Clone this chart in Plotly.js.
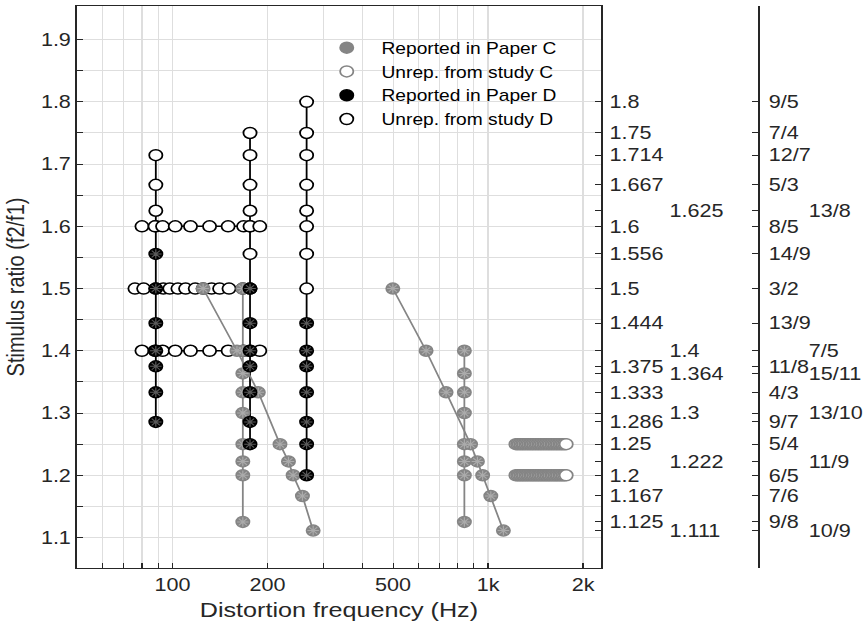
<!DOCTYPE html>
<html>
<head>
<meta charset="utf-8">
<script src="https://cdn.plot.ly/plotly-3.0.1.min.js"></script>
<style>
html,body{margin:0;padding:0;overflow:hidden;background:#fff;}
#wrap{width:723px;height:639px;transform:scaleX(1.1992);transform-origin:0 0;}
</style>
</head>
<body>
<div id="wrap"><div id="plot"></div></div>
<script>
// ---------- Data ----------
// Study D: vertical columns (constant distortion frequency)
const dColFreqs = [88.5, 176, 266];
const dColOpen = [
  [1.7143, 1.6667, 1.625, 1.6],
  [1.75, 1.7143, 1.6667, 1.625, 1.6, 1.5556],
  [1.8, 1.75, 1.7143, 1.6667, 1.625, 1.6, 1.5556, 1.5]
];
const dColRep = [
  [1.5556, 1.5, 1.4444, 1.4, 1.375, 1.3333, 1.2857],
  [1.5, 1.4444, 1.4, 1.375, 1.3333, 1.2857, 1.25],
  [1.4444, 1.4, 1.375, 1.3333, 1.2857, 1.25, 1.2]
];
// Study D: horizontal rows (constant ratio), unreported
const dRowRatios = [1.6, 1.5, 1.4];
const dRowFreqs = [
  [80, 88, 93, 102, 114, 131, 150, 168, 176, 189],
  [76, 81, 88.5, 93.5, 98, 104, 110, 118, 125, 133, 141, 151, 167, 176],
  [80, 88, 93, 102, 114, 131, 150, 168, 176, 189]
];
// Study C: diagonals (reported)
const cDiagRatios = [1.5, 1.4, 1.3333, 1.25, 1.2222, 1.2, 1.1667, 1.1111];
const cDiagLowFreqs = [125, 160, 187, 219, 233, 241, 258, 279];
const cDiagHighFreqs = [499, 636, 736, 880, 925, 961, 1020, 1118];
// Study C: vertical columns (reported)
const cColLowFreq = 167;
const cColLowRatios = [1.5, 1.4, 1.3636, 1.3333, 1.3, 1.25, 1.2222, 1.2, 1.125];
const cColHighFreq = 841;
const cColHighRatios = [1.4, 1.3636, 1.3333, 1.3, 1.25, 1.2222, 1.2, 1.125];
// Study C: dense horizontal rows (unreported)
const cRowRatios = [1.25, 1.2];
const cRowFreqs = [1225, 1240, 1255, 1270, 1285, 1300, 1316, 1332, 1348, 1364, 1380, 1396,
  1413, 1430, 1447, 1464, 1481, 1499, 1517, 1535, 1553, 1571, 1590, 1609, 1628, 1647,
  1666, 1686, 1706, 1726, 1746, 1768];

// Axis ticks
const xTickVals = [60, 70, 80, 90, 100, 200, 300, 400, 500, 600, 700, 800, 900, 1000, 2000];
const xTickText = ['', '', '', '', '100', '200', '', '', '500', '', '', '', '', '1k', '2k'];
const yTickVals = [1.1, 1.15, 1.2, 1.25, 1.3, 1.35, 1.4, 1.45, 1.5, 1.55, 1.6, 1.65, 1.7, 1.75, 1.8, 1.85, 1.9];
const yTickText = ['1.1', '', '1.2', '', '1.3', '', '1.4', '', '1.5', '', '1.6', '', '1.7', '', '1.8', '', '1.9'];
const ratioVals = [1.8, 1.75, 1.7143, 1.6667, 1.6, 1.5556, 1.5, 1.4444, 1.375, 1.3333, 1.2857, 1.25, 1.2, 1.1667, 1.125];
const ratioDec = ['1.8', '1.75', '1.714', '1.667', '1.6', '1.556', '1.5', '1.444', '1.375', '1.333', '1.286', '1.25', '1.2', '1.167', '1.125'];
const ratioFrac = ['9/5', '7/4', '12/7', '5/3', '8/5', '14/9', '3/2', '13/9', '11/8', '4/3', '9/7', '5/4', '6/5', '7/6', '9/8'];
const staggerVals = [1.625, 1.4, 1.3636, 1.3, 1.2222, 1.1111];
const staggerDec = ['1.625', '1.4', '1.364', '1.3', '1.222', '1.111'];
const staggerFrac = ['13/8', '7/5', '15/11', '13/10', '11/9', '10/9'];

// ---------- Styles ----------
const GRAY = '#858585';
const DARK = '#000000';
const AX = '#262626';
const MS = 11;

const traces = [];
function lineTrace(x, y, color) {
  traces.push({x: x, y: y, mode: 'lines', type: 'scatter', showlegend: false, hoverinfo: 'skip',
    line: {color: color, width: 1.5}});
}
// lines: study D
dColFreqs.forEach((f, i) => {
  const ys = dColOpen[i].concat(dColRep[i]);
  lineTrace(ys.map(() => f), ys, DARK);
});
dRowRatios.forEach((r, i) => lineTrace(dRowFreqs[i], dRowFreqs[i].map(() => r), DARK));
// lines: study C
lineTrace(cDiagLowFreqs, cDiagRatios, GRAY);
lineTrace(cDiagHighFreqs, cDiagRatios, GRAY);
lineTrace(cColLowRatios.map(() => cColLowFreq), cColLowRatios, GRAY);
lineTrace(cColHighRatios.map(() => cColHighFreq), cColHighRatios, GRAY);
cRowRatios.forEach(r => lineTrace(cRowFreqs, cRowFreqs.map(() => r), GRAY));

// marker collections
let dOpenX = [], dOpenY = [], dRepX = [], dRepY = [];
dColFreqs.forEach((f, i) => {
  dColOpen[i].forEach(r => { dOpenX.push(f); dOpenY.push(r); });
  dColRep[i].forEach(r => { dRepX.push(f); dRepY.push(r); });
});
dRowRatios.forEach((r, i) => dRowFreqs[i].forEach(f => { dOpenX.push(f); dOpenY.push(r); }));
let cRepX = [], cRepY = [], cOpenX = [], cOpenY = [];
cDiagRatios.forEach((r, i) => { cRepX.push(cDiagLowFreqs[i]); cRepY.push(r); });
cColLowRatios.forEach(r => { cRepX.push(cColLowFreq); cRepY.push(r); });
cDiagRatios.forEach((r, i) => { cRepX.push(cDiagHighFreqs[i]); cRepY.push(r); });
cColHighRatios.forEach(r => { cRepX.push(cColHighFreq); cRepY.push(r); });
cRowRatios.forEach(r => cRowFreqs.forEach(f => { cOpenX.push(f); cOpenY.push(r); }));

traces.push({x: dOpenX, y: dOpenY, mode: 'markers', type: 'scatter', name: 'Unrep. from study D', legendrank: 4,
  marker: {symbol: 'circle', size: MS, color: '#ffffff', line: {color: DARK, width: 1.5}}});
traces.push({x: cOpenX, y: cOpenY, mode: 'markers', type: 'scatter', name: 'Unrep. from study C', legendrank: 2,
  marker: {symbol: 'circle', size: MS, color: '#ffffff', line: {color: GRAY, width: 1.5}}});
traces.push({x: cRepX, y: cRepY, mode: 'markers', type: 'scatter', name: 'Reported in Paper C', legendrank: 1,
  marker: {symbol: 'circle', size: MS, color: GRAY, line: {color: GRAY, width: 1.5}}});
traces.push({x: cRepX, y: cRepY, mode: 'markers', type: 'scatter', showlegend: false, hoverinfo: 'skip',
  marker: {symbol: 'asterisk-open', size: 8, color: '#ababab', line: {color: '#ababab', width: 1}}});
traces.push({x: dRepX, y: dRepY, mode: 'markers', type: 'scatter', name: 'Reported in Paper D', legendrank: 3,
  marker: {symbol: 'circle', size: MS, color: DARK, line: {color: DARK, width: 1.5}}});
traces.push({x: dRepX, y: dRepY, mode: 'markers', type: 'scatter', showlegend: false, hoverinfo: 'skip',
  marker: {symbol: 'asterisk-open', size: 8, color: '#5a5a5a', line: {color: '#5a5a5a', width: 1}}});
// empty carriers for the ratio axes
['y2', 'y3', 'y4', 'y5'].forEach(ya => traces.push({x: [], y: [], yaxis: ya, type: 'scatter', mode: 'markers', showlegend: false, hoverinfo: 'skip'}));

const FONT = 'Liberation Sans, Arial, Helvetica, sans-serif';
const yRange = [1.051, 1.954];
const rightAxisBase = {overlaying: 'y', side: 'right', range: yRange, showgrid: false, zeroline: false,
  tickfont: {size: 18, color: AX, family: FONT}, fixedrange: true};

const layout = {
  width: 723, height: 639,
  margin: {l: 64, r: 3, t: 6, b: 71},
  paper_bgcolor: '#ffffff', plot_bgcolor: '#ffffff',
  font: {family: FONT, color: AX},
  showlegend: true,
  legend: {x: 0.299, y: 0.956, xanchor: 'left', yanchor: 'top', bgcolor: 'rgba(0,0,0,0)',
    font: {size: 16, color: '#000', family: FONT}, itemwidth: 48, traceorder: 'normal'},
  xaxis: {type: 'log', range: [1.6964, 3.358], domain: [0, 0.6665],
    tickvals: xTickVals, ticktext: xTickText, ticks: 'inside', ticklen: 5, tickcolor: AX,
    showline: true, mirror: true, linecolor: AX, linewidth: 1.3,
    showgrid: true, gridcolor: '#dedede', gridwidth: 1, zeroline: false,
    tickfont: {size: 18, color: AX, family: FONT},
    title: {text: 'Distortion frequency (Hz)', font: {size: 21, color: AX, family: FONT}, standoff: 8}},
  yaxis: {range: yRange, tickvals: yTickVals, ticktext: yTickText, ticks: 'inside', ticklen: 5, tickcolor: AX,
    showline: true, mirror: true, linecolor: AX, linewidth: 1.3,
    showgrid: true, gridcolor: '#dedede', gridwidth: 1, zeroline: false,
    tickfont: {size: 18, color: AX, family: FONT},
    title: {text: 'Stimulus ratio (f2/f1)', font: {size: 20, color: AX, family: FONT}, standoff: 8}},
  yaxis2: Object.assign({}, rightAxisBase, {anchor: 'x', tickvals: ratioVals.concat(staggerVals),
    ticktext: ratioDec.concat(staggerVals.map(() => '')), ticks: 'inside', ticklen: 5, tickcolor: AX,
    showline: false, ticklabelstandoff: 6}),
  yaxis3: Object.assign({}, rightAxisBase, {anchor: 'free', position: 0.752, tickvals: staggerVals,
    ticktext: staggerDec, ticks: '', showline: false}),
  yaxis4: Object.assign({}, rightAxisBase, {anchor: 'free', position: 0.866, tickvals: ratioVals.concat(staggerVals),
    ticktext: ratioFrac.concat(staggerVals.map(() => '')), ticks: 'inside', ticklen: 5, tickcolor: AX,
    showline: true, linecolor: AX, linewidth: 1.3, ticklabelstandoff: 4}),
  yaxis5: Object.assign({}, rightAxisBase, {anchor: 'free', position: 0.929, tickvals: staggerVals,
    ticktext: staggerFrac, ticks: '', showline: false}),
  shapes: [{type: 'rect', xref: 'paper', yref: 'paper', x0: 0.3129, x1: 0.6422, y0: 0.7194, y1: 1,
    fillcolor: '#ffffff', line: {width: 0}, layer: 'between'}]
};

Plotly.newPlot('plot', traces, layout, {displayModeBar: false, staticPlot: true});
</script>
</body>
</html>
